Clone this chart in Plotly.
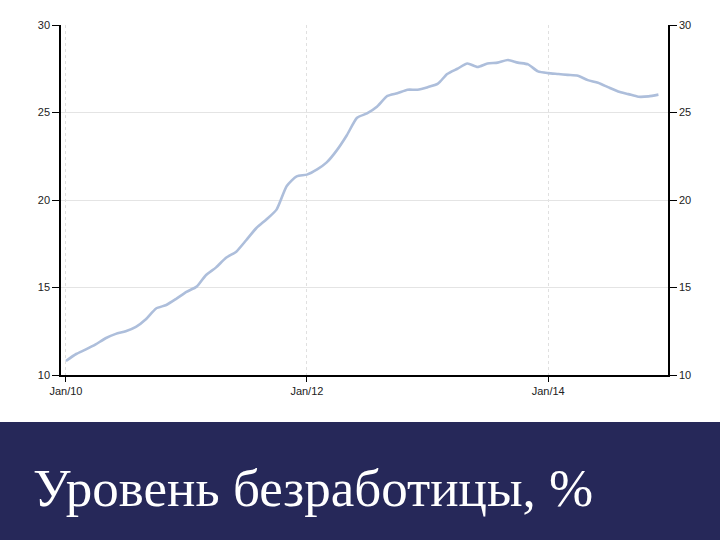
import plotly.graph_objects as go
import pandas as pd

start_month = "2010-01-01"
unemployment = [
    10.8, 11.2, 11.45, 11.75, 12.1, 12.35, 12.5, 12.75, 13.2, 13.8, 14.0, 14.35,
    14.75, 15.05, 15.7, 16.15, 16.7, 17.05, 17.7, 18.4, 18.9, 19.45, 20.8, 21.35,
    21.45, 21.75, 22.15, 22.85, 23.7, 24.7, 24.95, 25.35, 25.95, 26.1, 26.3, 26.3,
    26.45, 26.65, 27.2, 27.5, 27.8, 27.6, 27.8, 27.85, 28.0, 27.85, 27.75, 27.35,
    27.25, 27.2, 27.15, 27.1, 26.85, 26.7, 26.45, 26.2, 26.05, 25.9, 25.92, 26.02,
]
dates = pd.date_range(start_month, periods=len(unemployment), freq="MS")
y_ticks = [10, 15, 20, 25, 30]
x_tick_dates = ["2010-01-01", "2012-01-01", "2014-01-01"]
x_tick_labels = ["Jan/10", "Jan/12", "Jan/14"]
title_text = "Уровень безработицы, %"

tick_font = dict(family="Liberation Sans Narrow, Arial Narrow, Liberation Sans, sans-serif",
                 size=11, color="#222222")

fig = go.Figure()
fig.add_trace(go.Scatter(
    x=dates, y=unemployment, mode="lines",
    line=dict(color="#adbedb", width=2.6, shape="spline", smoothing=0.6),
    hoverinfo="skip", showlegend=False,
))

W, H = 720, 540
L, R, T, B = 61, 52, 25, 165
pw, ph = W - L - R, H - T - B

fig.update_layout(
    width=W, height=H,
    margin=dict(l=L, r=R, t=T, b=B, pad=0),
    paper_bgcolor="white", plot_bgcolor="white",
    showlegend=False,
    xaxis=dict(
        range=["2009-12-17", "2014-12-30"],
        tickvals=x_tick_dates, ticktext=x_tick_labels,
        ticks="outside", ticklen=5, tickcolor="black", tickwidth=1,
        showline=True, linecolor="black", linewidth=1.5,
        showgrid=True, gridcolor="#e0e0e0", griddash="dot", gridwidth=1,
        tickfont=tick_font, zeroline=False,
    ),
    yaxis=dict(
        range=[10, 30], tickvals=y_ticks,
        ticks="outside", ticklen=7, tickcolor="black", tickwidth=1,
        showline=True, linecolor="black", linewidth=1.5,
        showgrid=True, gridcolor="#e4e4e4", gridwidth=1,
        tickfont=tick_font, zeroline=False,
    ),
    yaxis2=dict(
        range=[10, 30], tickvals=y_ticks, overlaying="y", side="right",
        ticks="outside", ticklen=7, tickcolor="black", tickwidth=1,
        showline=True, linecolor="black", linewidth=1.5,
        showgrid=False, tickfont=tick_font, zeroline=False,
    ),
)

fig.add_trace(go.Scatter(x=[dates[0]], y=[None], yaxis="y2", mode="lines",
                         hoverinfo="skip", showlegend=False))

# dark banner at the bottom
fig.add_shape(type="rect", xref="paper", yref="paper",
              x0=-L / pw, x1=(W - L) / pw,
              y0=-(H - T - ph) / ph, y1=-(422 - T - ph) / ph,
              fillcolor="#262859", line=dict(width=0), layer="above")
fig.add_annotation(
    text=title_text, xref="paper", yref="paper",
    x=(31 - L) / pw, y=-(488 - T - ph) / ph,
    xanchor="left", yanchor="middle", showarrow=False,
    font=dict(family="Liberation Serif, DejaVu Serif, serif", size=53, color="white"),
)

fig.write_html("out.html",
               config={"displayModeBar": False},
               post_script="document.body.style.margin='0';document.body.style.padding='0';"
                           "document.body.style.overflow='hidden';")
